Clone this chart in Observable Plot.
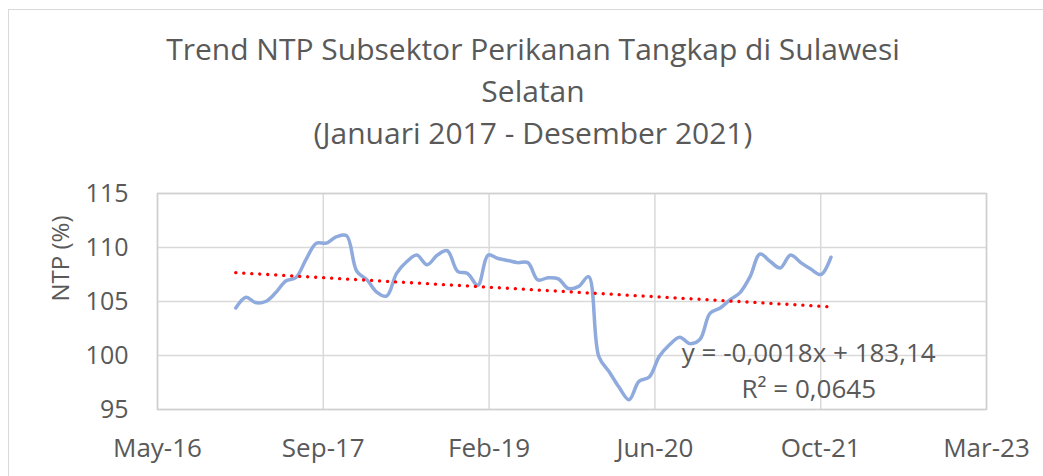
<!DOCTYPE html>
<html><head><meta charset="utf-8">
<script src="https://cdn.jsdelivr.net/npm/d3@7"></script>
<script src="https://cdn.jsdelivr.net/npm/@observablehq/plot@0.6"></script>
<style>
body{margin:0;background:#fff;font-family:"Open Sans",sans-serif;}
#wrap{position:relative;width:1043px;height:476px;overflow:hidden;background:#fff;}
#border{position:absolute;left:8px;top:9px;width:1100px;height:600px;border:1.5px solid #d9d9d9;box-sizing:border-box;}
#title{position:absolute;left:0;top:28px;width:1066px;text-align:center;font-size:30px;line-height:42px;color:#595959;}
#chart{position:absolute;left:0;top:175px;}
</style></head>
<body><div id="wrap"><div id="border"></div><div id="title"></div><div id="chart"></div></div>
<script>
const titleLines = ["Trend NTP Subsektor Perikanan Tangkap di Sulawesi", "Selatan", "(Januari 2017 - Desember 2021)"];
const yLabel = "NTP (%)";
const months = [
 "2017-01","2017-02","2017-03","2017-04","2017-05","2017-06","2017-07","2017-08","2017-09","2017-10","2017-11","2017-12",
 "2018-01","2018-02","2018-03","2018-04","2018-05","2018-06","2018-07","2018-08","2018-09","2018-10","2018-11","2018-12",
 "2019-01","2019-02","2019-03","2019-04","2019-05","2019-06","2019-07","2019-08","2019-09","2019-10","2019-11","2019-12",
 "2020-01","2020-02","2020-03","2020-04","2020-05","2020-06","2020-07","2020-08","2020-09","2020-10","2020-11","2020-12",
 "2021-01","2021-02","2021-03","2021-04","2021-05","2021-06","2021-07","2021-08","2021-09","2021-10","2021-11","2021-12"];
const ntp = [
 104.4,105.4,104.9,105.0,105.8,106.9,107.2,108.9,110.4,110.4,111.0,111.1,
 107.8,107.0,105.9,105.5,107.6,108.7,109.3,108.4,109.3,109.7,107.8,107.6,
 106.5,109.3,109.0,108.8,108.6,108.6,107.0,107.2,107.1,106.2,106.4,107.3,
 99.9,98.5,97.1,95.9,97.6,98.0,99.9,101.0,101.7,101.1,101.5,103.9,
 104.4,105.2,105.8,107.3,109.4,108.7,108.1,109.3,108.6,108.0,107.5,109.1];
const xTicks = ["2016-05-10","2017-09-22","2019-02-04","2020-06-18","2021-10-31","2023-03-15"];
const yTicks = [95,100,105,110,115];
const eqLabel = "y = -0,0018x + 183,14\nR² = 0,0645";
const eqDate = "2021-09-25";
const eqValue = 98.8;

document.getElementById("title").innerHTML = titleLines.join("<br>");

const data = months.map((m, i) => ({date: new Date(m + "-01T00:00:00Z"), value: ntp[i]}));
const xTickDates = xTicks.map(d => new Date(d + "T00:00:00Z"));

const plot = Plot.plot({
  width: 1043, height: 295,
  marginTop: 18, marginBottom: 61, marginLeft: 157, marginRight: 57,
  style: {fontFamily: "Open Sans", color: "#595959", background: "transparent"},
  x: {type: "utc", domain: [xTickDates[0], xTickDates[xTickDates.length - 1]], label: null},
  y: {domain: [95, 115], label: null},
  marks: [
    Plot.gridX(xTickDates, {stroke: "#d9d9d9", strokeOpacity: 1, strokeWidth: 1.5}),
    Plot.gridY(yTicks, {stroke: "#d9d9d9", strokeOpacity: 1, strokeWidth: 1.5}),
    Plot.frame({stroke: "#d0d0d0", strokeWidth: 1.5}),
    Plot.axisX(xTickDates, {tickFormat: d3.utcFormat("%b-%y"), tickSize: 0, tickPadding: 29, fontSize: 26, fill: "#595959"}),
    Plot.axisY(yTicks, {tickSize: 0, tickPadding: 29, fontSize: 25, fill: "#595959"}),
    Plot.line(data, {x: "date", y: "value", stroke: "#8FAADC", strokeWidth: 3.5, curve: "catmull-rom"}),
    Plot.linearRegressionY(data, {x: "date", y: "value", stroke: "#FF0000", strokeWidth: 3.3, strokeDasharray: "0.1 7.9", strokeLinecap: "round", ci: 0}),
    Plot.text([eqLabel], {x: () => new Date(eqDate + "T00:00:00Z"), y: () => eqValue, text: d => d, fontSize: 26, lineHeight: 1.37, textAnchor: "middle", fill: "#595959"}),
    Plot.text([yLabel], {frameAnchor: "left", rotate: -90, dx: -96, text: d => d, fontSize: 24, fill: "#595959"})
  ]
});
document.getElementById("chart").appendChild(plot);
</script>
</body></html>
